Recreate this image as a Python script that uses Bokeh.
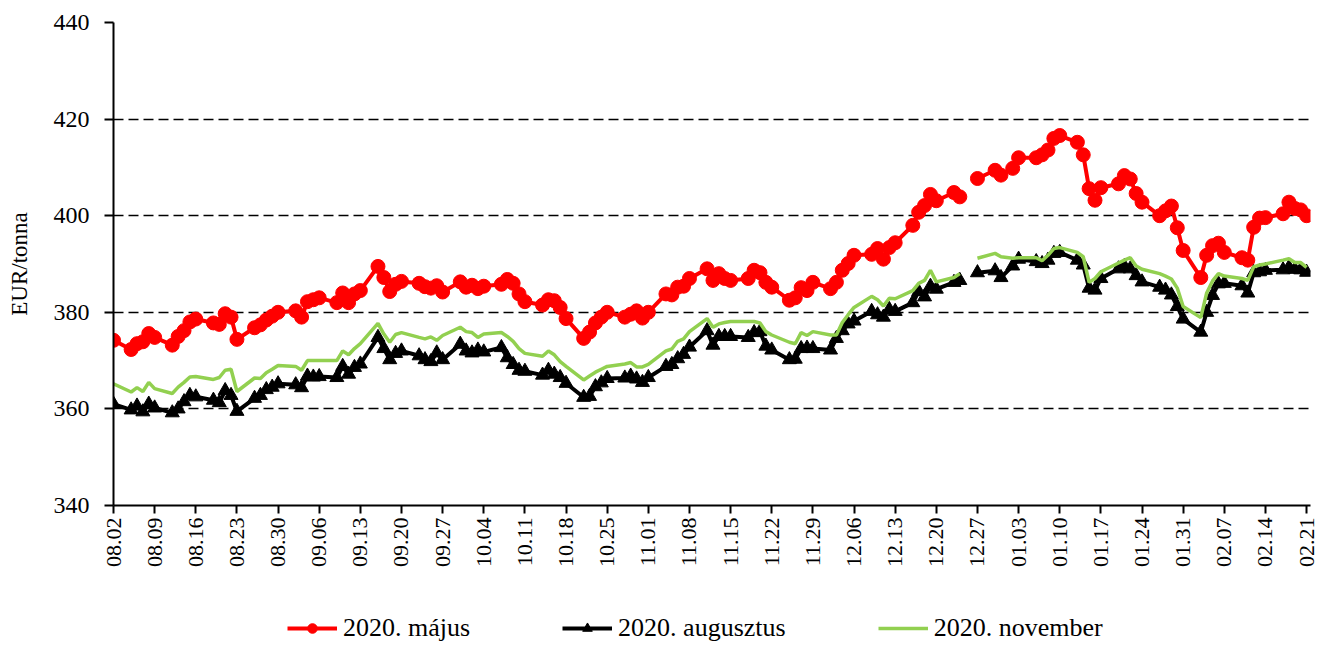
import numpy as np
import pandas as pd
from bokeh.plotting import figure
from bokeh.layouts import column
from bokeh.models import (Range1d, FixedTicker, DatetimeTickFormatter, Legend,
                          LegendItem, ColumnDataSource)
from bokeh.embed import file_html
from bokeh.resources import INLINE

nan = float("nan")

# trading days (weekdays, Jan 1 closed; Dec 25-26 without quotes)
dates = pd.bdate_range("2019-08-02", "2020-02-21")
dates = dates[dates != pd.Timestamp("2020-01-01")]

tick_dates = pd.date_range("2019-08-02", "2020-02-21", freq="7D")

label_majus = "2020. május"
label_aug = "2020. augusztus"
label_nov = "2020. november"

majus = [
    374.2,
    372.3, 373.5, 373.9, 375.6, 374.8,
    373.2, 375.0, 376.2, 378.0, 378.6,
    377.8, 377.5, 379.7, 379.0, 374.4,
    376.8, 377.4, 378.4, 379.2, 380.0,
    380.3, 379.0, 382.2, 382.6, 383.0,
    382.0, 384.0, 382.0, 383.8, 384.5,
    389.5, 387.2, 384.3, 385.8, 386.4,
    386.0, 385.3, 385.0, 385.5, 384.2,
    386.3, 385.2, 385.6, 384.9, 385.4,
    385.8, 386.8, 386.0, 383.8, 382.2,
    381.5, 382.6, 382.4, 381.0, 378.7,
    374.6, 375.9, 377.8, 379.0, 380.0,
    379.0, 379.6, 380.3, 378.8, 380.0,
    383.8, 383.6, 385.2, 385.4, 387.0,
    389.0, 386.6, 388.0, 387.0, 386.6,
    387.0, 388.7, 388.2, 386.2, 385.2,
    382.5, 383.0, 385.1, 384.5, 386.2,
    384.9, 386.2, 388.7, 390.1, 391.8,
    392.0, 393.2, 391.0, 393.4, 394.4,
    398.0, 400.7, 402.1, 404.4, 403.1,
    404.8, 403.9, nan, nan, 407.7,
    409.4, 408.4, 409.8, 412.0,
    412.0, 412.6, 413.6, 416.0, 416.6,
    415.2, 412.6, 405.6, 403.2, 405.8,
    406.6, 408.3, 407.6, 404.6, 402.8,
    400.0, 401.0, 402.0, 397.5, 392.8,
    387.2, 391.8, 393.8, 394.3, 392.4,
    391.3, 390.8, 397.6, 399.5, 399.6,
    400.4, 402.8, 401.5, 401.2, 400.0,
]

augusztus = [
    361.0,
    359.8, 360.6, 359.4, 361.0, 360.2,
    359.2, 360.0, 361.5, 362.8, 362.5,
    361.8, 361.3, 363.8, 362.8, 359.5,
    362.2, 362.8, 364.0, 364.5, 365.2,
    365.0, 364.4, 366.8, 366.6, 366.7,
    366.5, 368.8, 367.2, 368.6, 369.3,
    374.8, 372.5, 370.2, 371.5, 372.0,
    371.0, 370.2, 369.8, 371.6, 370.2,
    373.4, 372.0, 371.6, 372.2, 371.8,
    372.7, 370.6, 369.2, 368.0, 367.8,
    367.0, 368.0, 367.2, 366.5, 365.3,
    362.4, 362.6, 364.6, 365.4, 366.3,
    366.4, 366.8, 366.2, 365.5, 366.5,
    368.8, 369.2, 370.4, 371.3, 372.8,
    376.2, 373.2, 375.0, 375.0, 375.0,
    374.8, 375.8, 376.0, 373.0, 372.2,
    370.2, 370.3, 372.5, 372.6, 372.5,
    372.2, 374.6, 376.2, 377.6, 378.2,
    380.2, 379.5, 379.0, 380.6, 380.2,
    382.0, 384.3, 383.2, 385.4, 384.8,
    386.2, 386.6, nan, nan, 388.2,
    388.6, 387.2, 389.6, 391.0,
    390.5, 390.1, 390.8, 392.2, 392.4,
    390.8, 389.8, 385.0, 384.6, 387.0,
    389.0, 389.5, 389.0, 387.6, 386.3,
    385.2, 384.6, 383.6, 381.2, 378.6,
    375.9, 380.0, 383.5, 385.9, 386.0,
    385.5, 384.0, 388.2, 388.4, 388.7,
    388.8, 389.3, 388.9, 388.8, 388.3,
]

november = [
    365.2,
    363.5, 364.4, 363.6, 365.5, 364.2,
    363.2, 364.5, 365.5, 366.6, 366.7,
    366.1, 366.5, 368.0, 368.2, 363.6,
    366.4, 366.3, 367.5, 368.2, 369.0,
    368.8, 368.0, 370.0, 370.0, 370.0,
    370.0, 372.0, 371.2, 372.5, 373.5,
    377.7, 375.5, 373.8, 375.4, 375.8,
    374.8, 374.5, 374.9, 374.2, 375.2,
    376.9, 376.0, 375.8, 374.8, 375.5,
    375.8, 375.0, 374.0, 372.5, 371.5,
    370.9, 372.0, 371.2, 369.8, 368.8,
    366.0, 366.8, 367.6, 368.2, 368.8,
    369.3, 369.6, 368.7, 368.7, 369.2,
    372.0, 372.4, 374.0, 374.5, 376.0,
    378.7, 376.9, 377.6, 377.9, 378.1,
    378.1, 378.1, 377.8, 376.0, 375.3,
    373.8, 373.5, 375.8, 375.2, 376.0,
    375.3, 375.3, 377.9, 379.5, 381.0,
    383.3, 382.6, 381.3, 382.9, 382.8,
    384.5, 386.0, 386.6, 388.7, 386.3,
    387.2, 388.0, nan, nan, 391.2,
    392.2, 391.5, 391.2, 391.3,
    391.3, 390.7, 391.8, 393.2, 393.4,
    392.4, 391.5, 386.2, 387.0, 388.4,
    390.2, 390.8, 391.3, 389.6, 388.9,
    388.0, 387.5, 386.9, 385.0, 381.2,
    378.9, 384.0, 386.5, 388.0, 387.5,
    387.0, 386.6, 389.4, 389.8, 390.0,
    390.8, 391.1, 390.3, 390.3, 389.3,
]

y_ticks = [340, 360, 380, 400, 420, 440]

src = ColumnDataSource(dict(date=dates, majus=majus, aug=augusztus, nov=november))

FONT = "Liberation Serif"
RED, BLACK, GREEN = "#FF0000", "#000000", "#92D050"

p = figure(width=1318, height=585, x_axis_type="datetime",
           output_backend="svg", toolbar_location=None,
           x_range=Range1d(pd.Timestamp("2019-08-02"), pd.Timestamp("2020-02-21 16:00")),
           y_range=Range1d(340, 440),
           min_border_left=113, min_border_right=8,
           min_border_top=22, min_border_bottom=80)
p.outline_line_color = None
p.background_fill_color = "white"
p.border_fill_color = "white"

# grid
p.xgrid.visible = False
p.ygrid.grid_line_color = "black"
p.ygrid.grid_line_dash = "10 5"
p.ygrid.grid_line_width = 1.5

# y axis
p.yaxis.ticker = FixedTicker(ticks=y_ticks)
p.yaxis.axis_line_width = 2
p.yaxis.major_tick_line_width = 2
p.yaxis.major_tick_in = 0
p.yaxis.major_tick_out = 9
p.yaxis.minor_tick_line_color = None
p.yaxis.major_label_text_font = FONT
p.yaxis.major_label_text_font_size = "24px"
p.yaxis.major_label_text_color = "black"
p.yaxis.major_label_standoff = 15
p.yaxis.axis_label = "EUR/tonna"
p.yaxis.axis_label_text_font = FONT
p.yaxis.axis_label_text_font_size = "23px"
p.yaxis.axis_label_text_font_style = "normal"
p.yaxis.axis_label_text_color = "black"
p.yaxis.axis_label_standoff = 19

# x axis
tick_ms = [t.value // 10**6 for t in tick_dates]
p.xaxis.ticker = FixedTicker(ticks=tick_ms)
fmt = "%m.%d"
p.xaxis.formatter = DatetimeTickFormatter(milliseconds=fmt, seconds=fmt, minsec=fmt,
                                          minutes=fmt, hourmin=fmt, hours=fmt,
                                          days=fmt, months=fmt, years=fmt)
p.xaxis.axis_line_width = 2
p.xaxis.major_tick_line_width = 2
p.xaxis.major_tick_in = 0
p.xaxis.major_tick_out = 8
p.xaxis.minor_tick_line_color = None
p.xaxis.major_label_orientation = np.pi / 2
p.xaxis.major_label_text_font = FONT
p.xaxis.major_label_text_font_size = "22px"
p.xaxis.major_label_text_color = "black"
p.xaxis.major_label_standoff = 4

# series
p.line("date", "majus", source=src, line_color=RED, line_width=4)
p.scatter("date", "majus", source=src, marker="circle", size=14,
          fill_color=RED, line_color=RED)
p.line("date", "aug", source=src, line_color=BLACK, line_width=4)
p.scatter("date", "aug", source=src, marker="triangle", size=14,
          fill_color=BLACK, line_color=BLACK)
p.line("date", "nov", source=src, line_color=GREEN, line_width=3.5)

# legend strip below the chart (same series, drawn outside its view range)
lg = figure(width=1318, height=60, output_backend="svg", toolbar_location=None,
            x_range=Range1d(0, 1), y_range=Range1d(0, 1),
            min_border=0, outline_line_color=None)
lg.axis.visible = False
lg.grid.visible = False
l1 = lg.line("date", "majus", source=src, line_color=RED, line_width=4)
m1 = lg.scatter("date", "majus", source=src, marker="circle", size=14,
                fill_color=RED, line_color=RED)
l2 = lg.line("date", "aug", source=src, line_color=BLACK, line_width=4)
m2 = lg.scatter("date", "aug", source=src, marker="triangle", size=14,
                fill_color=BLACK, line_color=BLACK)
l3 = lg.line("date", "nov", source=src, line_color=GREEN, line_width=3.5)

legend = Legend(items=[LegendItem(label=label_majus, renderers=[l1, m1]),
                       LegendItem(label=label_aug, renderers=[l2, m2]),
                       LegendItem(label=label_nov, renderers=[l3])],
                location=(174, 2), orientation="horizontal",
                label_text_font=FONT, label_text_font_size="26px",
                label_text_color="black",
                glyph_width=50, glyph_height=24, label_height=24,
                label_standoff=6, spacing=92, padding=0, margin=0,
                border_line_color=None, background_fill_alpha=0)
lg.add_layout(legend)

layout = column(p, lg, spacing=0)
open("out.html", "w").write(file_html(layout, INLINE))
